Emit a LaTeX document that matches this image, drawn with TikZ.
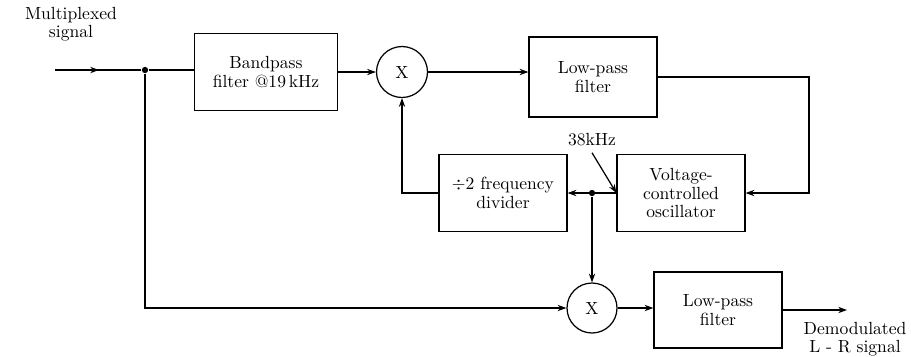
\documentclass[tikz,border=0pt]{standalone}
\usetikzlibrary{arrows.meta}
\begin{document}
\begin{tikzpicture}[x=0.02cm, y=-0.02cm, line width=0.7pt,
    block/.style={draw, rectangle, minimum width=2.56cm, minimum height=1.54cm, align=center,
        font=\linespread{0.9}\selectfont},
    mixer/.style={draw, circle, minimum size=1.02cm, inner sep=0pt},
    flow/.style={-{Stealth[length=5pt,width=3.6pt]}},
    junc/.style={circle, fill, minimum size=3.6pt, inner sep=0pt}]
    \useasboundingbox (0,0) rectangle (911,356);
    % upper path
    \node[align=center, font=\linespread{0.85}\selectfont] (insig) at (71,24) {Multiplexed\\signal};
    \coordinate (in) at (55,70);
    \coordinate (inmid) at (99,70);
    \node[junc] (j1) at (145,70) {};
    \node[block, minimum width=2.86cm] (bpf) at (266,72) {Bandpass\\filter @19\,kHz};
    \node[mixer] (mix1) at (402,72) {X};
    \node[block, minimum height=1.6cm] (lpf1) at (593,77) {Low-pass\\filter};
    % loop
    \node[block] (vco) at (681,193) {Voltage-\\controlled\\oscillator};
    \node[block] (div) at (503,193) {$\div$2 frequency\\divider};
    \node[junc] (j2) at (592,193) {};
    \node (f38) at (592,140) {38kHz};
    \coordinate (fbk) at (809,150);
    % lower path
    \node[mixer, minimum size=1.0cm] (mix2) at (592,308) {X};
    \node[block, minimum height=1.52cm] (lpf2) at (718,310) {Low-pass\\filter};
    \coordinate (out) at (847,310);
    \node[align=center, anchor=north, inner sep=0pt, font=\linespread{0.85}\selectfont] (outsig) at (855,322) {Demodulated\\L - R signal};

    \draw (in) -- (j1);
    \draw[flow] (in) -- (inmid);
    \draw (j1) -- (j1 -| bpf.west);
    \draw[flow] (bpf) -- (mix1);
    \draw[flow] (mix1.east) -- (mix1.east -| lpf1.west);
    \draw[flow] (lpf1.east) -| (fbk) |- (vco.east);
    \draw[flow] (vco.west) -- (div.east);
    \draw[flow] (div.west) -| (mix1.south);
    \draw[flow] (f38.south) -- (vco.west);
    \draw[flow] (j2) -- (mix2.north);
    \draw[flow] (j1) |- (mix2.west);
    \draw[flow] (mix2.east) -- (mix2.east -| lpf2.west);
    \draw[flow] (lpf2.east) -- (out);
\end{tikzpicture}
\end{document}
